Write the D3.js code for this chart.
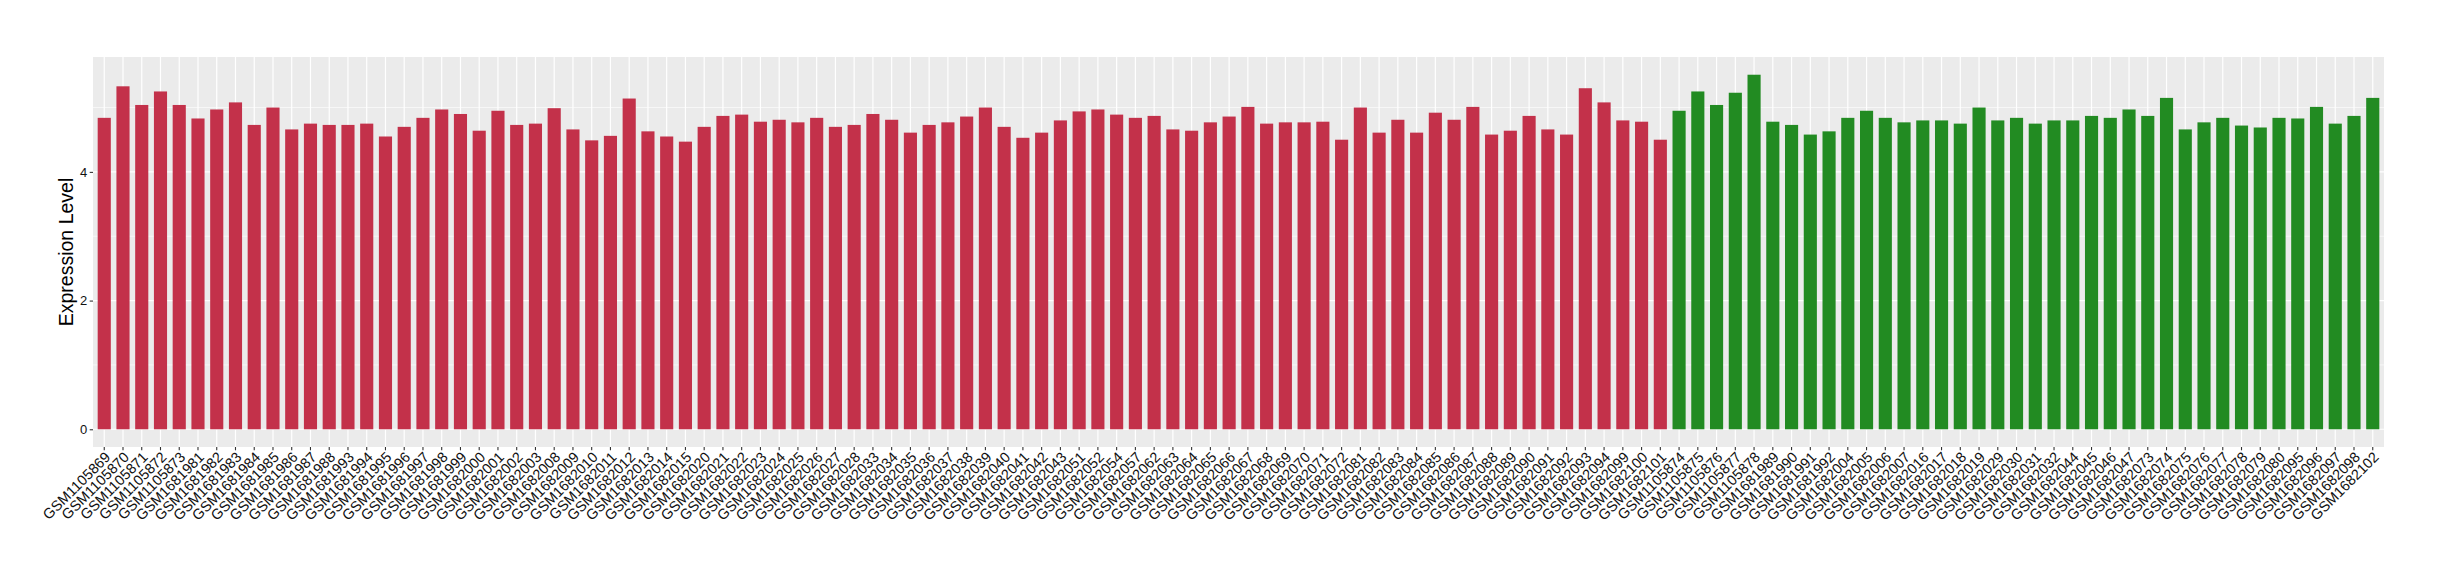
<!DOCTYPE html>
<html>
<head>
<meta charset="utf-8">
<script src="https://cdn.jsdelivr.net/npm/d3@7"></script>
<style>
body { margin: 0; background: #fff; }
text { font-family: "Liberation Sans", Arial, Helvetica, sans-serif; }
</style>
</head>
<body>
<svg id="chart" width="2440" height="580"></svg>
<script>
// samples of the first group (red)
var redSamples = [
  'GSM1105869','GSM1105870','GSM1105871','GSM1105872','GSM1105873',
  'GSM1681981','GSM1681982','GSM1681983','GSM1681984','GSM1681985','GSM1681986','GSM1681987','GSM1681988',
  'GSM1681993','GSM1681994','GSM1681995','GSM1681996','GSM1681997','GSM1681998','GSM1681999','GSM1682000','GSM1682001','GSM1682002','GSM1682003',
  'GSM1682008','GSM1682009','GSM1682010','GSM1682011','GSM1682012','GSM1682013','GSM1682014','GSM1682015',
  'GSM1682020','GSM1682021','GSM1682022','GSM1682023','GSM1682024','GSM1682025','GSM1682026','GSM1682027','GSM1682028',
  'GSM1682033','GSM1682034','GSM1682035','GSM1682036','GSM1682037','GSM1682038','GSM1682039','GSM1682040','GSM1682041','GSM1682042','GSM1682043',
  'GSM1682051','GSM1682052','GSM1682054','GSM1682057',
  'GSM1682062','GSM1682063','GSM1682064','GSM1682065','GSM1682066','GSM1682067','GSM1682068','GSM1682069','GSM1682070','GSM1682071','GSM1682072',
  'GSM1682081','GSM1682082','GSM1682083','GSM1682084','GSM1682085','GSM1682086','GSM1682087','GSM1682088','GSM1682089','GSM1682090','GSM1682091','GSM1682092','GSM1682093','GSM1682094',
  'GSM1682099','GSM1682100','GSM1682101'
];
var redValues = [
  4.84, 5.33, 5.04, 5.25, 5.04,
  4.83, 4.97, 5.08, 4.73, 5.00, 4.66, 4.75, 4.73,
  4.73, 4.75, 4.55, 4.70, 4.84, 4.97, 4.90, 4.64, 4.95, 4.73, 4.75,
  4.99, 4.66, 4.49, 4.56, 5.14, 4.63, 4.55, 4.47,
  4.70, 4.87, 4.89, 4.78, 4.81, 4.77, 4.84, 4.70, 4.73,
  4.90, 4.81, 4.61, 4.73, 4.77, 4.86, 5.00, 4.70, 4.53, 4.61, 4.80,
  4.94, 4.97, 4.89, 4.84,
  4.87, 4.66, 4.64, 4.77, 4.86, 5.01, 4.75, 4.77, 4.77, 4.78, 4.50,
  5.00, 4.61, 4.81, 4.61, 4.92, 4.81, 5.01, 4.58, 4.64, 4.87, 4.66, 4.58, 5.30, 5.08,
  4.80, 4.78, 4.50
];

// samples of the second group (green)
var greenSamples = [
  'GSM1105874','GSM1105875','GSM1105876','GSM1105877','GSM1105878',
  'GSM1681989','GSM1681990','GSM1681991','GSM1681992',
  'GSM1682004','GSM1682005','GSM1682006','GSM1682007',
  'GSM1682016','GSM1682017','GSM1682018','GSM1682019',
  'GSM1682029','GSM1682030','GSM1682031','GSM1682032',
  'GSM1682044','GSM1682045','GSM1682046','GSM1682047',
  'GSM1682073','GSM1682074','GSM1682075','GSM1682076','GSM1682077','GSM1682078','GSM1682079','GSM1682080',
  'GSM1682095','GSM1682096','GSM1682097','GSM1682098',
  'GSM1682102'
];
var greenValues = [
  4.95, 5.25, 5.04, 5.23, 5.51,
  4.78, 4.73, 4.58, 4.63,
  4.84, 4.95, 4.84, 4.77,
  4.80, 4.80, 4.75, 5.00,
  4.80, 4.84, 4.75, 4.80,
  4.80, 4.87, 4.84, 4.97,
  4.87, 5.15, 4.66, 4.77, 4.84, 4.72, 4.69, 4.84,
  4.83, 5.01, 4.75, 4.87,
  5.15
];

var yTicks = [0, 2, 4];
var yMinor = [1, 3, 5];
var yTitle = 'Expression Level';

var groupColor = {red: '#C3314A', green: '#228B22'};

var rows = redSamples.map(function(s, i) {
    return {sample: s, value: redValues[i], group: 'red'};
}).concat(greenSamples.map(function(s, i) {
    return {sample: s, value: greenValues[i], group: 'green'};
}));

var svg = d3.select('#chart');

// panel box
var panel = {l: 93, r: 2384, t: 57, b: 447};

var maxVal = d3.max(rows, function(d) { return d.value; });

var xScale = d3.scaleBand()
    .domain(rows.map(function(d) { return d.sample; }))
    .range([panel.l, panel.r])
    .paddingInner(0.3)
    .paddingOuter(0.25);

var yScale = d3.scaleLinear()
    .domain([-maxVal * 0.05, maxVal * 1.05])
    .range([panel.b, panel.t]);

// background
svg.append('rect')
    .attr('x', panel.l).attr('y', panel.t)
    .attr('width', panel.r - panel.l).attr('height', panel.b - panel.t)
    .attr('fill', '#EBEBEB');

// grid
var gridG = svg.append('g');
gridG.selectAll('.minor')
    .data(yMinor)
    .enter().append('line')
    .attr('x1', panel.l).attr('x2', panel.r)
    .attr('y1', function(d) { return yScale(d); })
    .attr('y2', function(d) { return yScale(d); })
    .attr('stroke', '#fff').attr('stroke-width', 0.6);
gridG.selectAll('.major')
    .data(yTicks)
    .enter().append('line')
    .attr('x1', panel.l).attr('x2', panel.r)
    .attr('y1', function(d) { return yScale(d); })
    .attr('y2', function(d) { return yScale(d); })
    .attr('stroke', '#fff').attr('stroke-width', 1.2);
gridG.selectAll('.vmajor')
    .data(rows)
    .enter().append('line')
    .attr('x1', function(d) { return xScale(d.sample) + xScale.bandwidth() / 2; })
    .attr('x2', function(d) { return xScale(d.sample) + xScale.bandwidth() / 2; })
    .attr('y1', panel.t).attr('y2', panel.b)
    .attr('stroke', '#fff').attr('stroke-width', 1.2);

// bars
svg.append('g').selectAll('rect')
    .data(rows)
    .enter().append('rect')
    .attr('x', function(d) { return xScale(d.sample); })
    .attr('width', xScale.bandwidth())
    .attr('y', function(d) { return yScale(d.value); })
    .attr('height', function(d) { return yScale(0) - yScale(d.value); })
    .attr('fill', function(d) { return groupColor[d.group]; });

// y axis
var yAx = svg.append('g')
    .attr('transform', 'translate(' + panel.l + ',0)')
    .call(d3.axisLeft(yScale).tickValues(yTicks).tickFormat(d3.format('d'))
        .tickSize(3.3).tickPadding(2.5));
yAx.select('.domain').remove();
yAx.selectAll('.tick line').attr('stroke', '#333').attr('stroke-width', 1.1);
yAx.selectAll('.tick text')
    .attr('fill', '#111')
    .style('font-size', '13px');

// x axis
var xAx = svg.append('g')
    .attr('transform', 'translate(0,' + panel.b + ')')
    .call(d3.axisBottom(xScale).tickSize(3.3));
xAx.select('.domain').remove();
xAx.selectAll('.tick line').attr('stroke', '#333').attr('stroke-width', 1.1);
xAx.selectAll('.tick text')
    .attr('fill', '#111')
    .style('font-size', '14.5px')
    .attr('text-anchor', 'end')
    .attr('dy', null)
    .attr('y', 0)
    .attr('transform', 'translate(7,11) rotate(-45)');

// y title
svg.append('text')
    .attr('transform', 'translate(73,' + ((panel.t + panel.b) / 2) + ') rotate(-90)')
    .attr('text-anchor', 'middle')
    .style('font-size', '19.5px')
    .attr('fill', '#000')
    .text(yTitle);
</script>
</body>
</html>
